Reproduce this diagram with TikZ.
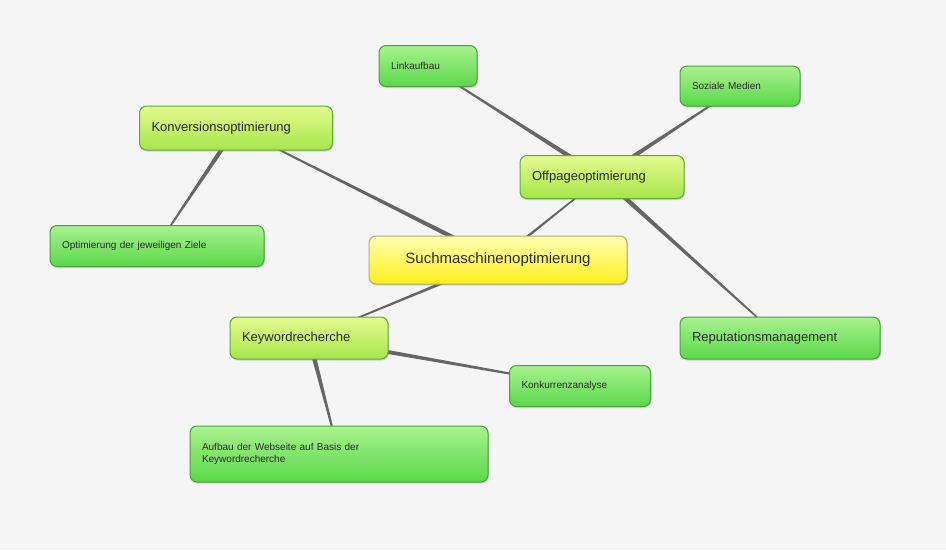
\documentclass[tikz,border=0pt]{standalone}
\usepackage{fontspec}
\setmainfont{Liberation Sans}
\usetikzlibrary{calc,backgrounds,shadows}
\definecolor{gtop}{HTML}{A8F28E}
\definecolor{gbot}{HTML}{5AD84A}
\definecolor{mtop}{HTML}{E4FA8E}
\definecolor{mbot}{HTML}{A6E64A}
\definecolor{gdraw}{HTML}{4E9E3E}
\definecolor{txt}{HTML}{2A2A2A}
\begin{document}
\begin{tikzpicture}[x=1pt,y=-1pt,
  box/.style={rounded corners=7pt, draw=gdraw, line width=1pt, text=txt,
    top color=gtop, bottom color=gbot,
    drop shadow={shadow xshift=1pt,shadow yshift=-1.5pt,opacity=0.3},
    inner xsep=12pt, align=left, anchor=center},
  mid/.style={box, top color=mtop, bottom color=mbot, draw=gdraw!90!yellow, font=\fontsize{13}{15}\selectfont},
  sm/.style={box, font=\fontsize{10}{12}\selectfont},
  linkc/.style={fill=black!60}]
\useasboundingbox (0,0) rectangle (946,550);
\node[box, top color=yellow!30, bottom color=yellow!85!orange!90, draw=yellow!50!black!70,
  minimum width=258pt, minimum height=48pt, align=center, font=\fontsize{15}{18}\selectfont] (c) at (498,260) {Suchmaschinenoptimierung};
\node[mid, minimum width=193pt, minimum height=44pt, text width=169pt] (k) at (236,128) {Konversionsoptimierung};
\node[sm, minimum width=214pt, minimum height=41pt, text width=190pt] (o) at (157,246) {Optimierung der jeweiligen Ziele};
\node[sm, minimum width=98pt, minimum height=41pt, text width=74pt] (l) at (428,66) {Linkaufbau};
\node[sm, minimum width=120pt, minimum height=40pt, text width=96pt] (s) at (740,86) {Soziale Medien};
\node[mid, minimum width=164pt, minimum height=43pt, text width=140pt] (p) at (602,177) {Offpageoptimierung};
\node[box, font=\fontsize{13}{15}\selectfont, minimum width=200pt, minimum height=42pt, text width=176pt] (r) at (780,338) {Reputationsmanagement};
\node[mid, minimum width=158pt, minimum height=42pt, text width=134pt] (w) at (309,338) {Keywordrecherche};
\node[sm, minimum width=141pt, minimum height=41pt, text width=117pt] (a) at (580,386) {Konkurrenzanalyse};
\node[sm, minimum width=298pt, minimum height=56pt, text width=274pt] (b) at (339,454) {Aufbau der Webseite auf Basis der\\Keywordrecherche};
\newcommand\taper[3]{\fill[linkc] ($(#1)!#3!90:(#2)$) -- ($(#1)!#3!-90:(#2)$) -- ($(#2)!0.6pt!90:(#1)$) -- ($(#2)!0.6pt!-90:(#1)$) -- cycle;}
\begin{pgfonlayer}{background}
\fill[black!4] (0,0) rectangle (946,550);
\taper{c}{k}{2.5pt}
\taper{k}{o}{2.5pt}
\taper{c}{p}{1.5pt}
\taper{p}{l}{2.5pt}
\taper{p}{s}{2.5pt}
\taper{p}{r}{2.5pt}
\taper{c}{w}{1.8pt}
\taper{w}{a}{2.5pt}
\taper{w}{b}{2.5pt}
\end{pgfonlayer}
\end{tikzpicture}
\end{document}
